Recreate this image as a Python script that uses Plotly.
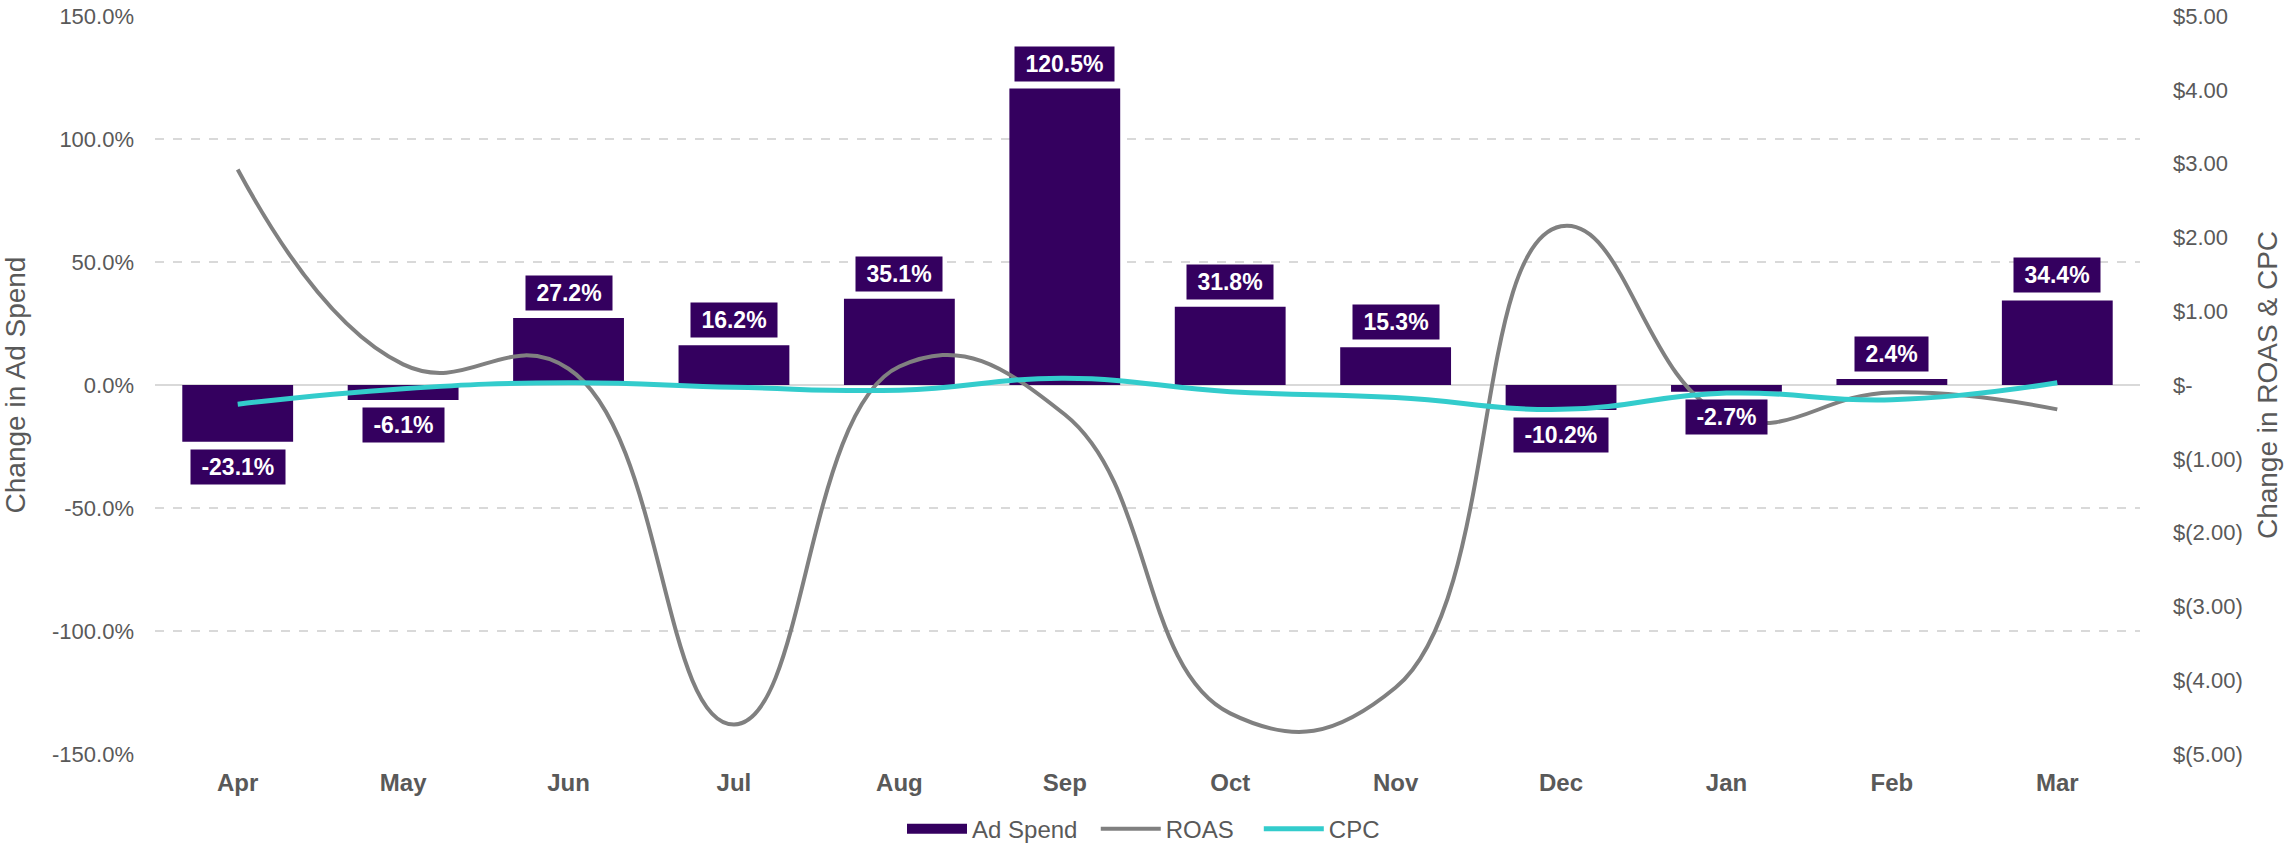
import plotly.graph_objects as go

months = ["Apr", "May", "Jun", "Jul", "Aug", "Sep", "Oct", "Nov", "Dec", "Jan", "Feb", "Mar"]
ad_spend = [-23.1, -6.1, 27.2, 16.2, 35.1, 120.5, 31.8, 15.3, -10.2, -2.7, 2.4, 34.4]
roas = [2.92, 0.28, 0.22, -4.6, 0.25, -0.40, -4.45, -4.10, 2.15, -0.42, -0.10, -0.33]
cpc = [-0.26, -0.05, 0.03, -0.03, -0.07, 0.09, -0.09, -0.17, -0.33, -0.11, -0.20, 0.03]

left_ticks = [150, 100, 50, 0, -50, -100, -150]
left_text = ["150.0%", "100.0%", "50.0%", "0.0%", "-50.0%", "-100.0%", "-150.0%"]
right_ticks = [5, 4, 3, 2, 1, 0, -1, -2, -3, -4, -5]
right_text = ["$5.00", "$4.00", "$3.00", "$2.00", "$1.00", "$-",
              "$(1.00)", "$(2.00)", "$(3.00)", "$(4.00)", "$(5.00)"]

PURPLE = "#34005F"
GREY = "#808080"
TEAL = "#33CCCC"
TXT = "#595959"
BASE = "Liberation Sans, Arial, sans-serif"
NARROW = "Liberation Sans Narrow, Arial Narrow, Liberation Sans, Arial, sans-serif"
NB = "\u00a0"

fig = go.Figure()
fig.add_trace(go.Bar(x=months, y=ad_spend, name="Ad Spend", marker_color=PURPLE,
                     marker_line_width=0, yaxis="y", showlegend=False))
# legend entry for the bars, drawn as a wide flat rectangle like the reference
fig.add_trace(go.Scatter(x=[None], y=[None], mode="lines", name="Ad Spend" + NB * 2,
                         line=dict(color=PURPLE, width=15), yaxis="y",
                         showlegend=True, hoverinfo="skip"))
fig.add_trace(go.Scatter(x=months, y=roas, name="ROAS" + NB * 3, mode="lines",
                         line=dict(color=GREY, width=4, shape="spline", smoothing=1.3),
                         yaxis="y2"))
fig.add_trace(go.Scatter(x=months, y=cpc, name="CPC", mode="lines",
                         line=dict(color=TEAL, width=5, shape="spline", smoothing=1.3),
                         yaxis="y2"))

for m, v in zip(months, ad_spend):
    fig.add_annotation(
        x=m, y=v, xref="x", yref="y",
        text="<b> %.1f%% </b>" % v,
        showarrow=False,
        yanchor="bottom" if v >= 0 else "top",
        yshift=7 if v >= 0 else -7,
        bgcolor=PURPLE, borderpad=4,
        font=dict(family=BASE, size=23, color="white"),
    )

fig.update_layout(
    width=2287, height=846,
    margin=dict(l=155, r=147, t=16, b=92, autoexpand=False),
    plot_bgcolor="white", paper_bgcolor="white",
    bargap=0.33,
    showlegend=True,
    legend=dict(orientation="h", x=0.5, xanchor="center", xref="container",
                y=0.02, yanchor="middle", yref="container",
                font=dict(family=BASE, size=24, color=TXT), itemwidth=60,
                traceorder="normal"),
    xaxis=dict(tickfont=dict(family=BASE, size=24, color=TXT, weight="bold"),
               showgrid=False, showline=False, ticks="", ticklabelstandoff=12,
               automargin=False),
    yaxis=dict(range=[-150, 150], tickvals=left_ticks, ticktext=left_text,
               tickfont=dict(family=BASE, size=22, color=TXT),
               showgrid=True, gridcolor="#D9D9D9", griddash="dash", gridwidth=1.5,
               zeroline=True, zerolinecolor="#D9D9D9", zerolinewidth=2,
               ticks="", ticklabelstandoff=20, automargin=False,
               title=dict(text="Change in Ad Spend", standoff=20,
                          font=dict(family=NARROW, size=28, color=TXT))),
    yaxis2=dict(range=[-5, 5], tickvals=right_ticks, ticktext=right_text,
                overlaying="y", side="right", showgrid=False, zeroline=False,
                tickfont=dict(family=BASE, size=22, color=TXT),
                ticks="", ticklabelstandoff=32, automargin=False,
                title=dict(text="Change in ROAS &amp; CPC", standoff=15,
                           font=dict(family=NARROW, size=28, color=TXT))),
)

fig.write_html("out.html", config={"displayModeBar": False},
               post_script="document.body.style.margin='0px';")
